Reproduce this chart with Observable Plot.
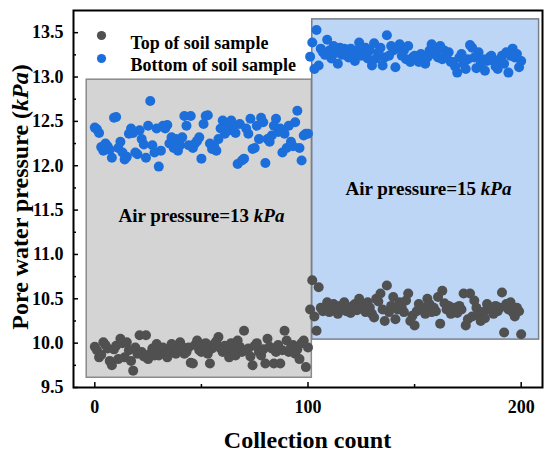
<!DOCTYPE html>
<html>
<head>
<meta charset="utf-8">
<script src="https://cdn.jsdelivr.net/npm/d3@7"></script>
<script src="https://cdn.jsdelivr.net/npm/@observablehq/plot@0.6"></script>
<style>
  body { margin: 0; background: #fff; }
  #chart svg, #chart svg text { font-family: "Liberation Serif", "Times New Roman", serif; font-weight: bold; }
</style>
</head>
<body>
<div id="chart"></div>
<script>
// ---- Data ----
const seriesNames = ["Top of soil sample", "Bottom of soil sample"];
const seriesColors = ["#505050", "#1c6fdb"];

// Top of soil sample (index = collection count 0..200)
const topValues = [
  9.96, 9.92, 9.84, 9.87, 10.01, 9.98, 9.94, 9.80, 9.75, 9.93,
  9.97, 9.82, 10.05, 10.00, 9.84, 10.01, 9.92, 9.80, 9.69, 9.95,
  9.88, 10.09, 9.90, 9.85, 10.09, 9.82, 9.88, 9.94, 9.86, 9.99,
  9.86, 9.92, 9.95, 9.88, 9.84, 9.93, 9.99, 9.97, 9.88, 9.93,
  10.01, 9.96, 9.88, 9.90, 9.95, 9.78, 9.77, 9.98, 10.03, 9.92,
  9.90, 9.95, 10.00, 9.88, 9.77, 9.94, 9.99, 10.02, 10.07, 9.94,
  9.90, 9.97, 9.92, 9.84, 10.00, 9.94, 9.86, 10.03, 9.96, 9.90,
  10.14, 9.92, 9.94, 9.85, 9.75, 9.97, 10.00, 9.90, 9.86, 9.93,
  9.77, 10.05, 9.96, 9.94, 9.77, 9.90, 9.98, 9.77, 9.92, 10.14,
  10.03, 9.90, 9.95, 9.98, 9.88, 9.93, 9.82, 10.00, 10.03, 9.73,
  9.95,
  10.38, 10.71, 10.30, 10.14, 10.63, 10.40, 10.36, 10.38, 10.46, 10.35,
  10.40, 10.44, 10.37, 10.33, 10.42, 10.38, 10.46, 10.36, 10.39, 10.34,
  10.42, 10.44, 10.37, 10.50, 10.43, 10.39, 10.35, 10.46, 10.40, 10.33,
  10.29, 10.50, 10.47, 10.56, 10.38, 10.25, 10.65, 10.35, 10.42, 10.52,
  10.27, 10.38, 10.46, 10.40, 10.35, 10.48, 10.56, 10.25, 10.31, 10.20,
  10.36, 10.44, 10.38, 10.40, 10.33, 10.50, 10.44, 10.35, 10.40, 10.36,
  10.52, 10.22, 10.59, 10.45, 10.38, 10.42, 10.33, 10.37, 10.40, 10.34,
  10.42, 10.38, 10.56, 10.20, 10.27, 10.56, 10.30, 10.48, 10.40, 10.31,
  10.25, 10.35, 10.28, 10.44, 10.38, 10.37, 10.33, 10.42, 10.36, 10.40,
  10.57, 10.12, 10.44, 10.38, 10.46, 10.35, 10.30, 10.40, 10.36, 10.10
];

// Bottom of soil sample (index = collection count 0..200)
const bottomValues = [
  12.43, 12.41, 12.37, 12.21, 12.17, 12.25, 12.22, 12.18, 12.09, 12.54,
  12.55, 12.20, 12.27, 12.15, 12.07, 12.10, 12.36, 12.42, 12.37, 12.15,
  12.13, 12.40, 12.30, 12.24, 12.09, 12.45, 12.73, 12.23, 12.15, 12.42,
  11.99, 12.17, 12.45, 12.42, 12.46, 12.25, 12.32, 12.20, 12.30, 12.17,
  12.23, 12.32, 12.56, 12.45, 12.23, 12.56, 12.20, 12.25, 12.28, 12.32,
  12.08, 12.47, 12.56, 12.57, 12.25, 12.19, 12.22, 12.17, 12.30, 12.42,
  12.51, 12.36, 12.47, 12.40, 12.51, 12.42, 12.37, 12.02, 12.47, 12.06,
  12.08, 12.42, 12.36, 12.53, 12.19, 12.20, 12.45, 12.30, 12.54, 12.49,
  12.03, 12.30, 12.27, 12.34, 12.45, 12.53, 12.38, 12.42, 12.15, 12.36,
  12.20, 12.45, 12.27, 12.22, 12.49, 12.62, 12.20, 12.06, 12.34, 12.36,
  12.36,
  13.23, 13.39, 13.09, 13.53, 13.13, 13.32, 13.28, 13.25, 13.42, 13.30,
  13.21, 13.35, 13.27, 13.15, 13.33, 13.25, 13.32, 13.30, 13.22, 13.32,
  13.26, 13.18, 13.30, 13.39, 13.24, 13.28, 13.33, 13.21, 13.30, 13.13,
  13.38, 13.21, 13.28, 13.33, 13.13, 13.22, 13.47, 13.24, 13.35, 13.30,
  13.11, 13.33, 13.37, 13.24, 13.30, 13.20, 13.35, 13.17, 13.22, 13.24,
  13.20, 13.17, 13.26, 13.22, 13.15, 13.22, 13.30, 13.37, 13.26, 13.30,
  13.22, 13.35, 13.20, 13.30, 13.24, 13.28, 13.17, 13.17, 13.12, 13.05,
  13.22, 13.26, 13.15, 13.09, 13.20, 13.36, 13.33, 13.22, 13.10, 13.28,
  13.15, 13.20, 13.07, 13.18, 13.22, 13.24, 13.18, 13.12, 13.09, 13.20,
  13.24, 13.15, 13.28, 13.05, 13.24, 13.32, 13.22, 13.26, 13.11, 13.18
];

// Shaded regions (collection count / pressure extents)
const regionX1 = [-3.8, 102.0];
const regionX2 = [101.8, 208.4];
const regionY1 = [9.61, 10.04];
const regionY2 = [12.97, 13.65];
const regionFills = ["#d4d4d4", "#bdd6f6"];
const regionStrokes = ["#8a8a8a", "#7a7f86"];

// Region labels
const regionLabels = ["Air pressure=13 kPa", "Air pressure=15 kPa"];
const regionLabelX = [50, 156.5];
const regionLabelY = [11.44, 11.74];

// Ticks
const xTicks = [0, 100, 200];
const xMinorTicks = [50, 150];
const yTicks = [9.5, 10.0, 10.5, 11.0, 11.5, 12.0, 12.5, 13.0, 13.5];
const yMinorTicks = [9.75, 10.25, 10.75, 11.25, 11.75, 12.25, 12.75, 13.25];

const xLabel = "Collection count";
const yLabel = ["Pore water pressure (", "kPa", ")"];

// ---- Build tables ----
const points = [
  ...topValues.map((v, i) => ({count: i, p: v, s: seriesNames[0]})),
  ...bottomValues.map((v, i) => ({count: i, p: v, s: seriesNames[1]}))
];
const regions = regionX1.map((d, i) => ({x1: regionX1[i], x2: regionX2[i], y1: regionY1[i], y2: regionY2[i]}));
const labels = regionLabels.map((t, i) => ({label: t, x: regionLabelX[i], y: regionLabelY[i]}));

const fontFamily = '"Liberation Serif", "Times New Roman", serif';

const plot = Plot.plot({
  width: 550,
  height: 456,
  marginLeft: 73,
  marginRight: 8,
  marginTop: 10,
  marginBottom: 69,
  x: {domain: [-10, 210]},
  y: {domain: [9.5, 13.75]},
  color: {domain: seriesNames, range: seriesColors},
  style: {fontFamily, fontSize: "18px", fontWeight: "bold", color: "#000", background: "#fff", overflow: "visible"},
  marks: [
    Plot.rect([regions[0]], {x1: "x1", x2: "x2", y1: "y1", y2: "y2", fill: regionFills[0], stroke: regionStrokes[0], strokeWidth: 1.5}),
    Plot.rect([regions[1]], {x1: "x1", x2: "x2", y1: "y1", y2: "y2", fill: regionFills[1], stroke: regionStrokes[1], strokeWidth: 1.5}),
    Plot.text(labels, {x: "x", y: "y", text: "label", fontSize: 19, fontWeight: "bold", fontFamily, fill: "#000", className: "region-label"}),
    Plot.dot(points.filter(d => d.s === seriesNames[0]), {x: "count", y: "p", fill: "s", r: 5}),
    Plot.dot(points.filter(d => d.s === seriesNames[1]), {x: "count", y: "p", fill: "s", r: 5}),
    // legend
    Plot.dot([seriesNames[0]], {frameAnchor: "top-left", dx: 28, dy: 25, fill: d => d, r: 4.6}),
    Plot.dot([seriesNames[1]], {frameAnchor: "top-left", dx: 28, dy: 48, fill: d => d, r: 4.6}),
    Plot.text([seriesNames[0]], {frameAnchor: "top-left", dx: 57, dy: 26, text: d => d, textAnchor: "start", fontSize: 18, fontFamily, fill: "#000"}),
    Plot.text([seriesNames[1]], {frameAnchor: "top-left", dx: 57, dy: 48, text: d => d, textAnchor: "start", fontSize: 18, fontFamily, fill: "#000"}),
    // axes (inward ticks)
    Plot.axisY({ticks: yTicks, tickSize: 5, dx: 5, tickPadding: 10, tickFormat: d3.format(".1f"), label: null, strokeWidth: 1.5, fontSize: 18, fontFamily}),
    Plot.axisY({ticks: yMinorTicks, tickSize: 3, dx: 3, tickFormat: () => "", label: null, strokeWidth: 1.5}),
    Plot.axisX({ticks: xTicks, tickSize: 5, dy: -5, tickPadding: 13, label: null, strokeWidth: 1.5, fontSize: 18, fontFamily}),
    Plot.axisX({ticks: xMinorTicks, tickSize: 3, dy: -3, tickFormat: () => "", label: null, strokeWidth: 1.5}),
    Plot.frame({stroke: "#000", strokeWidth: 2})
  ]
});

document.getElementById("chart").appendChild(plot);

const svg = d3.select(plot);

// italic "kPa" in region labels
svg.selectAll(".region-label text").each(function() {
  const t = this.textContent;
  const idx = t.indexOf("kPa");
  if (idx >= 0) {
    const sel = d3.select(this);
    sel.text(t.slice(0, idx));
    sel.append("tspan").attr("font-style", "italic").text("kPa");
  }
});

// axis titles
svg.append("text")
  .attr("x", 307.5)
  .attr("y", 448)
  .attr("text-anchor", "middle")
  .attr("font-size", 24)
  .attr("font-weight", "bold")
  .attr("font-family", fontFamily)
  .attr("fill", "#000")
  .text(xLabel);

const yt = svg.append("text")
  .attr("transform", "translate(28,197) rotate(-90)")
  .attr("text-anchor", "middle")
  .attr("font-size", 24)
  .attr("font-weight", "bold")
  .attr("font-family", fontFamily)
  .attr("fill", "#000");
yt.append("tspan").text(yLabel[0]);
yt.append("tspan").attr("font-style", "italic").text(yLabel[1]);
yt.append("tspan").text(yLabel[2]);
</script>
</body>
</html>
